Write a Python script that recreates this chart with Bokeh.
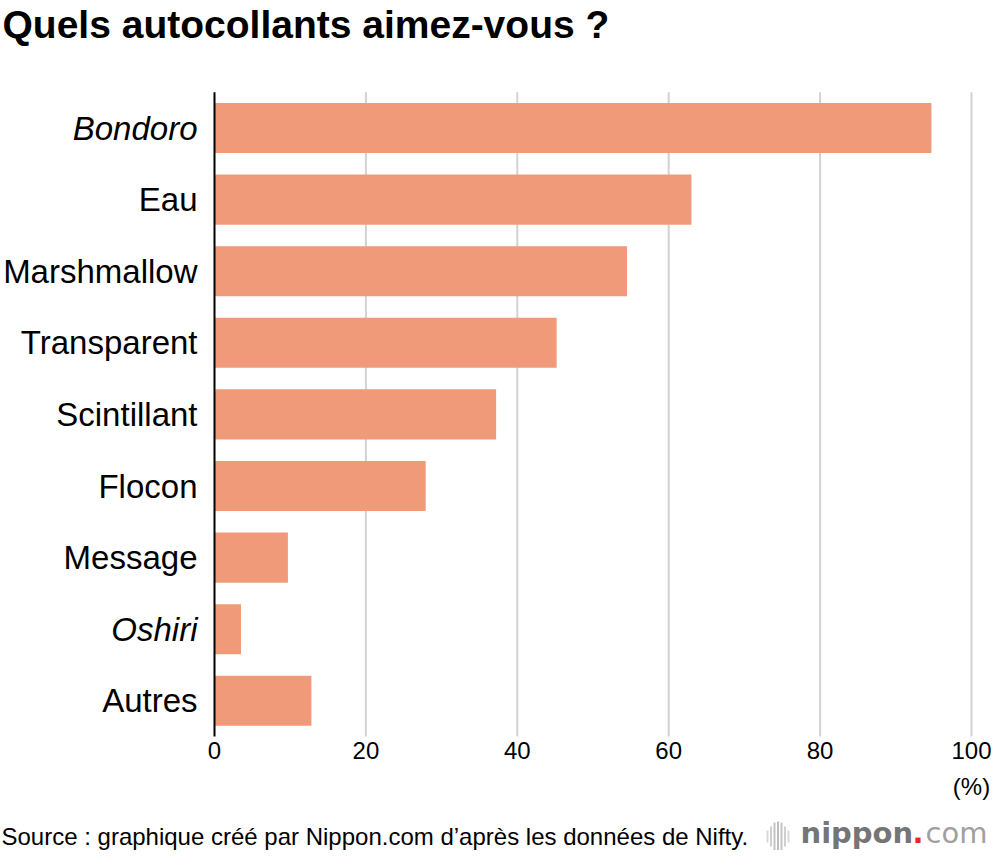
from bokeh.plotting import figure
from bokeh.models import ColumnDataSource, Range1d
from bokeh.core.properties import value, field
from bokeh.embed import file_html
from bokeh.resources import INLINE

categories = ["Bondoro", "Eau", "Marshmallow", "Transparent", "Scintillant",
              "Flocon", "Message", "Oshiri", "Autres"]
values = [94.7, 63.0, 54.5, 45.2, 37.2, 27.9, 9.7, 3.5, 12.8]
label_styles = ["italic", "normal", "normal", "normal", "normal",
                "normal", "normal", "italic", "normal"]
x_ticks = [0, 20, 40, 60, 80, 100]
x_tick_labels = ["0", "20", "40", "60", "80", "100"]

title_text = "Quels autocollants aimez-vous ?"
source_text = "Source : graphique créé par Nippon.com d’après les données de Nifty."
unit_text = "(%)"

FONT = "Liberation Sans"
BAR = "#F19A7A"
GRID = "#d2d2d2"

# ---- canvas layout (pixels) ----
W, H = 992, 850
L, R = 214, 971          # pixel positions of value 0 and value 100
ROW = 71.6               # pixels per category row
Y0 = 127.5               # pixel centre of the first row
ppu = (R - L) / 100.0


def X(px):
    return (px - L) / ppu


def Y(py):
    return (py - Y0) / ROW


p = figure(width=W, height=H,
           x_range=Range1d(X(0), X(W)), y_range=Range1d(Y(H), Y(0)),
           x_axis_location=None, y_axis_location=None,
           output_backend="svg", toolbar_location=None,
           min_border=0, min_border_left=0, min_border_right=0,
           min_border_top=0, min_border_bottom=0)
p.outline_line_color = None
p.background_fill_color = "white"
p.border_fill_color = "white"
for g in p.grid:
    g.visible = False
    g.grid_line_color = None

n = len(categories)
pos = list(range(n))
top_edge = -0.5
bottom_edge = n - 0.5

src = ColumnDataSource(dict(cat=categories, val=values, style=label_styles,
                            pos=pos, zero=[0] * n))

# grid lines
p.segment(x0=x_ticks[1:], y0=[top_edge] * (len(x_ticks) - 1),
          x1=x_ticks[1:], y1=[bottom_edge] * (len(x_ticks) - 1),
          line_color=GRID, line_width=2)

# bars
p.hbar(y="pos", right="val", left=0, height=0.7, source=src,
       fill_color=BAR, line_color=None)

# vertical axis line at 0
p.segment(x0=[0], y0=[top_edge], x1=[0], y1=[bottom_edge],
          line_color="black", line_width=2)

# category labels
p.text(x="zero", y="pos", text="cat", source=src, x_offset=-17,
       text_align="right", text_baseline="middle",
       text_font=value(FONT), text_font_size="33px",
       text_font_style=field("style"), text_color="black")

# x tick labels
p.text(x=x_ticks, y=[bottom_edge] * len(x_ticks), text=x_tick_labels,
       y_offset=5, text_align="center", text_baseline="top",
       text_font=value(FONT), text_font_size="24px", text_color="black")

# unit
p.text(x=[100], y=[bottom_edge], text=[unit_text], y_offset=36,
       text_align="center", text_baseline="top",
       text_font=value(FONT), text_font_size="24px", text_color="black")

# title
p.text(x=[X(2)], y=[Y(24)], text=[title_text], text_align="left",
       text_baseline="middle", text_font=value(FONT),
       text_font_size="39px", text_font_style="bold", text_color="black")

# source
p.text(x=[X(1)], y=[Y(836)], text=[source_text], text_align="left",
       text_baseline="middle", text_font=value(FONT),
       text_font_size="24px", text_color="black")

# logo icon (decorative)
icon_px = [767, 770.5, 774, 777.5, 781, 784.5, 788]
icon_h = [12, 20, 28, 30, 28, 20, 12]
icon_col = ["#d8d8d8", "#cfcfcf", "#c4c4c4", "#bdbdbd", "#c4c4c4", "#cfcfcf", "#d8d8d8"]
cy = 836
p.quad(left=[X(px - 1) for px in icon_px], right=[X(px + 1) for px in icon_px],
       top=[Y(cy - h / 2) for h in icon_h], bottom=[Y(cy + h / 2) for h in icon_h],
       fill_color=icon_col, line_color=None)

# logo text
logo_mid = 832
p.text(x=[X(800)], y=[Y(logo_mid)], text=["nippon"], text_baseline="middle",
       text_font=value("DejaVu Sans"), text_font_size="29px",
       text_font_style="bold", text_color="#757575")
p.text(x=[X(912)], y=[Y(logo_mid)], text=["."], text_baseline="middle",
       text_font=value("DejaVu Sans"), text_font_size="29px",
       text_font_style="bold", text_color="#e8262a")
p.text(x=[X(925)], y=[Y(logo_mid)], text=["com"], text_baseline="middle",
       text_font=value("DejaVu Sans"), text_font_size="29px",
       text_color="#a0a0a0")

open("out.html", "w").write(file_html(p, INLINE))
